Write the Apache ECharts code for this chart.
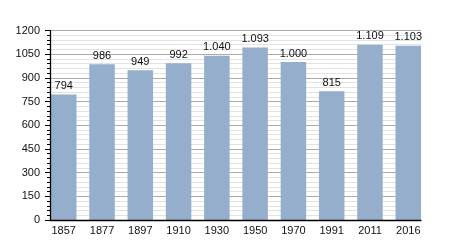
<!DOCTYPE html>
<html>
<head>
<meta charset="utf-8">
<script src="https://cdn.jsdelivr.net/npm/echarts@6/dist/echarts.min.js"></script>
<style>html,body{margin:0;padding:0;background:#fff;}#c{width:450px;height:250px;}</style>
</head>
<body>
<div id="c"></div>
<script>
const years = ['1857','1877','1897','1910','1930','1950','1970','1991','2011','2016'];
const population = [794, 986, 949, 992, 1040, 1093, 1000, 815, 1109, 1103];
const yMin = 0, yMax = 1200, yStep = 150;

function fmt(v){ return String(v).replace(/\B(?=(\d{3})+(?!\d))/g, '.'); }

const chart = echarts.init(document.getElementById('c'), null, {renderer:'canvas'});
const font = 'Liberation Sans, Arial, sans-serif';
chart.setOption({
  animation:false,
  backgroundColor:'#fff',
  grid:[
    {left:50, right:29, top:30.5, bottom:30},
    {left:44.6, right:22.6, top:30.5, bottom:30}
  ],
  xAxis:[
    {type:'category', gridIndex:0, data:years, boundaryGap:true, z:10,
     axisLine:{show:true, onZero:false, lineStyle:{color:'#000', width:1.3}},
     axisTick:{show:false}, axisLabel:{show:false}, splitLine:{show:false}},
    {type:'category', gridIndex:1, data:years, boundaryGap:true,
     axisLine:{show:false}, axisTick:{show:false},
     axisLabel:{color:'#111', fontSize:11, fontFamily:font, margin:5}}
  ],
  yAxis:[
    {type:'value', gridIndex:0, min:yMin, max:yMax, interval:yStep, position:'left',
     axisLine:{show:false}, axisTick:{show:false}, axisLabel:{show:false},
     minorTick:{show:false, splitNumber:5},
     splitLine:{show:true, lineStyle:{color:'#aaaaaa', width:1}},
     minorSplitLine:{show:true, lineStyle:{color:'#e2e2e2', width:1}}},
    {type:'value', gridIndex:1, min:yMin, max:yMax, interval:yStep, show:false,
     splitLine:{show:false}},
    {type:'value', gridIndex:0, min:yMin, max:yMax, interval:yStep, position:'left', offset:0, z:10,
     axisLine:{show:true, onZero:false, lineStyle:{color:'#000', width:1.3}},
     axisTick:{show:true, length:5, lineStyle:{color:'#000'}},
     minorTick:{show:true, splitNumber:5, length:3, lineStyle:{color:'#000'}},
     axisLabel:{color:'#111', fontSize:11, fontFamily:font, margin:10, formatter:v=>String(v)},
     splitLine:{show:false}, minorSplitLine:{show:false}}
  ],
  series:[{
    type:'bar', xAxisIndex:1, yAxisIndex:1, data:population,
    barWidth:25.5, z:2,
    itemStyle:{color:'#94aecc'},
    label:{show:true, position:'top', distance:3, color:'#111', fontSize:11, fontFamily:font,
      formatter:p=>fmt(p.value)}
  }]
});
</script>
</body>
</html>
